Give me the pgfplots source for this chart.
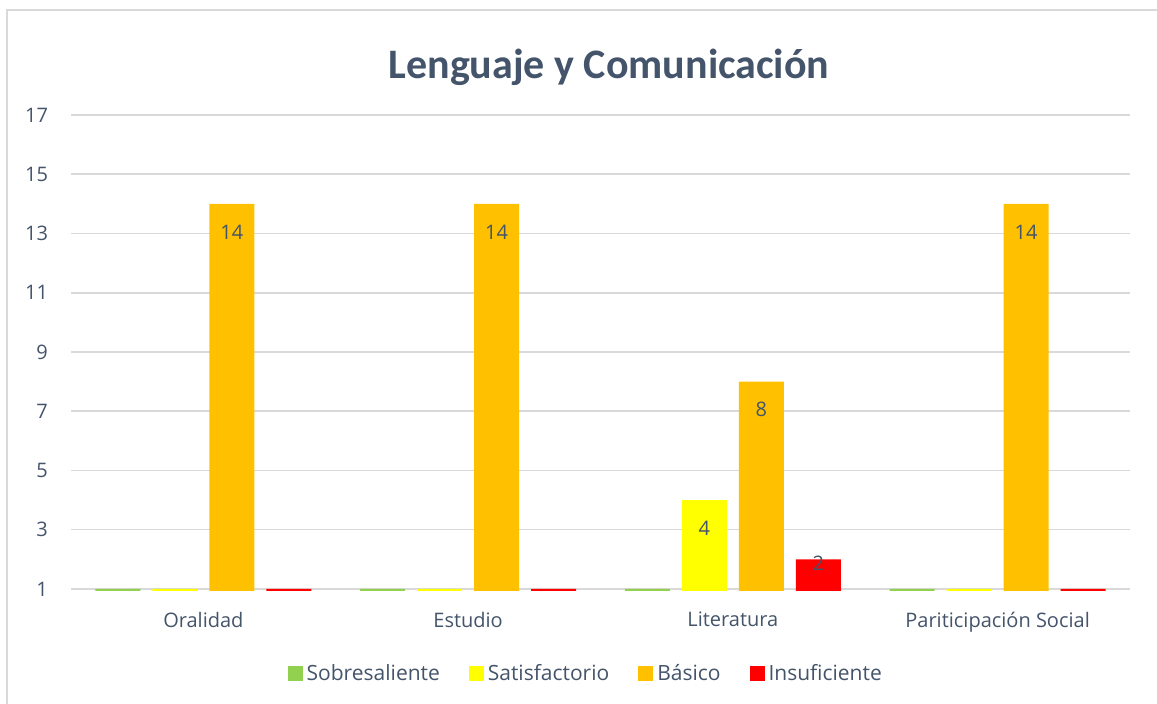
\documentclass[border=0pt]{standalone}
\usepackage{fontspec}
\setmainfont{Open Sans}
\newfontfamily\titlefont{Carlito}
\usepackage{pgfplots}
\pgfplotsset{compat=1.18}

\definecolor{txt}{HTML}{44546A}
\definecolor{gridc}{HTML}{D9D9D9}
\definecolor{cSob}{HTML}{92D050}
\definecolor{cSat}{HTML}{FFFF00}
\definecolor{cBas}{HTML}{FFC000}
\definecolor{cIns}{HTML}{FF0000}

\begin{document}
\begin{tikzpicture}
  % page = 1157x704 px at 0.5pt per px, origin at the bottom-left of the plot area
  \useasboundingbox (-35.5pt,-57.5pt) rectangle (543pt,294.5pt);
  \draw[gridc, line width=0.8pt] (-32pt,-57.5pt) -- (-32pt,289.5pt) -- (543pt,289.5pt);
  \begin{axis}[
      at={(0pt,-1pt)}, anchor=south west,
      scale only axis,
      width=529.5pt, height=238pt,
      ybar=6pt, bar width=22.5pt,
      ymin=0.93, ymax=17,
      ytick={1,3,...,17},
      xmin=-0.5, xmax=3.5,
      xtick=data,
      xticklabels={Oralidad, Estudio, Literatura, Pariticipación Social},
      axis line style={draw=none},
      major tick length=0pt,
      ymajorgrids,
      grid style={gridc, line width=0.8pt},
      tick label style={font=\fontsize{10}{12}\selectfont, text=txt},
      /pgf/number format/assume math mode=true,
      yticklabel style={xshift=-8pt},
      xticklabel style={yshift=-7pt},
      title={Lenguaje y Comunicación},
      title style={at={(0.508,1)}, anchor=center, yshift=18pt,
        font=\titlefont\fontsize{21}{25}\selectfont\bfseries, text=txt},
      legend columns=4,
      legend style={at={(0.487,-0.175)}, anchor=center, draw=none,
        font=\fontsize{10.5}{12}\selectfont, text=txt,
        /tikz/every even column/.append style={column sep=12.5pt}},
      legend image code/.code={\fill[#1] (0pt,-3.6pt) rectangle (7.5pt,3.9pt);},
      visualization depends on=rawy\as\rawy,
      nodes near coords={\ifdim\rawy pt>1.5pt \pgfmathprintnumber{\rawy}\fi},
      every node near coord/.append style={anchor=center, yshift=-14pt,
        font=\fontsize{10}{12}\selectfont, text=txt},
    ]
    \addplot[fill=cSob, draw=none] coordinates {(0,1) (1,1) (2,1) (3,1)};
    \addplot[fill=cSat, draw=none] coordinates {(0,1) (1,1) (2,4) (3,1)};
    \addplot[fill=cBas, draw=none] coordinates {(0,14) (1,14) (2,8) (3,14)};
    \addplot[fill=cIns, draw=none,
      every node near coord/.append style={yshift=12pt}] coordinates {(0,1) (1,1) (2,2) (3,1)};
    \legend{Sobresaliente, Satisfactorio, Básico, Insuficiente}
  \end{axis}
\end{tikzpicture}
\end{document}
